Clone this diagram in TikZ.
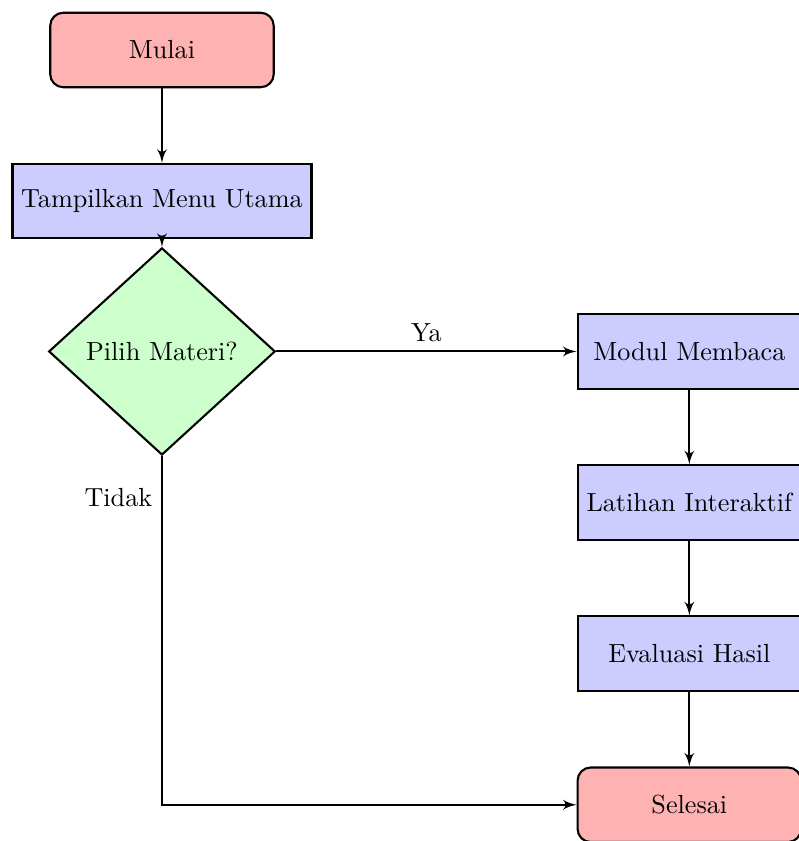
\documentclass[tikz,border=0pt]{standalone}
\usepackage{tikz}
\usetikzlibrary{shapes.geometric, arrows, positioning}

\begin{document}
\begin{tikzpicture}[node distance=1cm, auto,
            % Styles
            terminal/.style={rectangle, rounded corners=5pt, draw=black, fill=red!30, thick, minimum width=3cm, minimum height=1cm, text centered},
            process/.style={rectangle, draw=black, fill=blue!20, thick, minimum width=3cm, minimum height=1cm, text centered},
            decision/.style={diamond, aspect=1.1, draw=black, fill=green!20, thick, minimum width=3.04cm, minimum height=2.78cm, text centered},
            line/.style={draw, -latex', thick}
        ]

        % Frame
        \useasboundingbox (-2.174,0.671) rectangle (8.55,-10.617);

        % Nodes
        \node [terminal] (mulai) {Mulai};
        \node [process, below=of mulai] (menu) {Tampilkan Menu Utama};
        \node [decision, below=0.1cm of menu] (pilih) {Pilih Materi?};

        % Modules
        \node [process, right=4.03cm of pilih] (membaca) {Modul Membaca};
        \node [process, below=of membaca] (latihan) {Latihan Interaktif};
        \node [process, below=of latihan] (evaluasi) {Evaluasi Hasil};
        \node [terminal, below=of evaluasi] (selesai) {Selesai};

        % Edges
        \path [line] (mulai) -- (menu);
        \path [line] (menu) -- (pilih);
        \path [line] (pilih) -- node[above] {Ya} (membaca);
        \path [line] (membaca) -- (latihan);
        \path [line] (latihan) -- (evaluasi);
        \path [line] (evaluasi) -- (selesai);
        \path [line] (pilih.south) |- node[pos=0.06, left] {Tidak} (selesai);

    \end{tikzpicture}
\end{document}
